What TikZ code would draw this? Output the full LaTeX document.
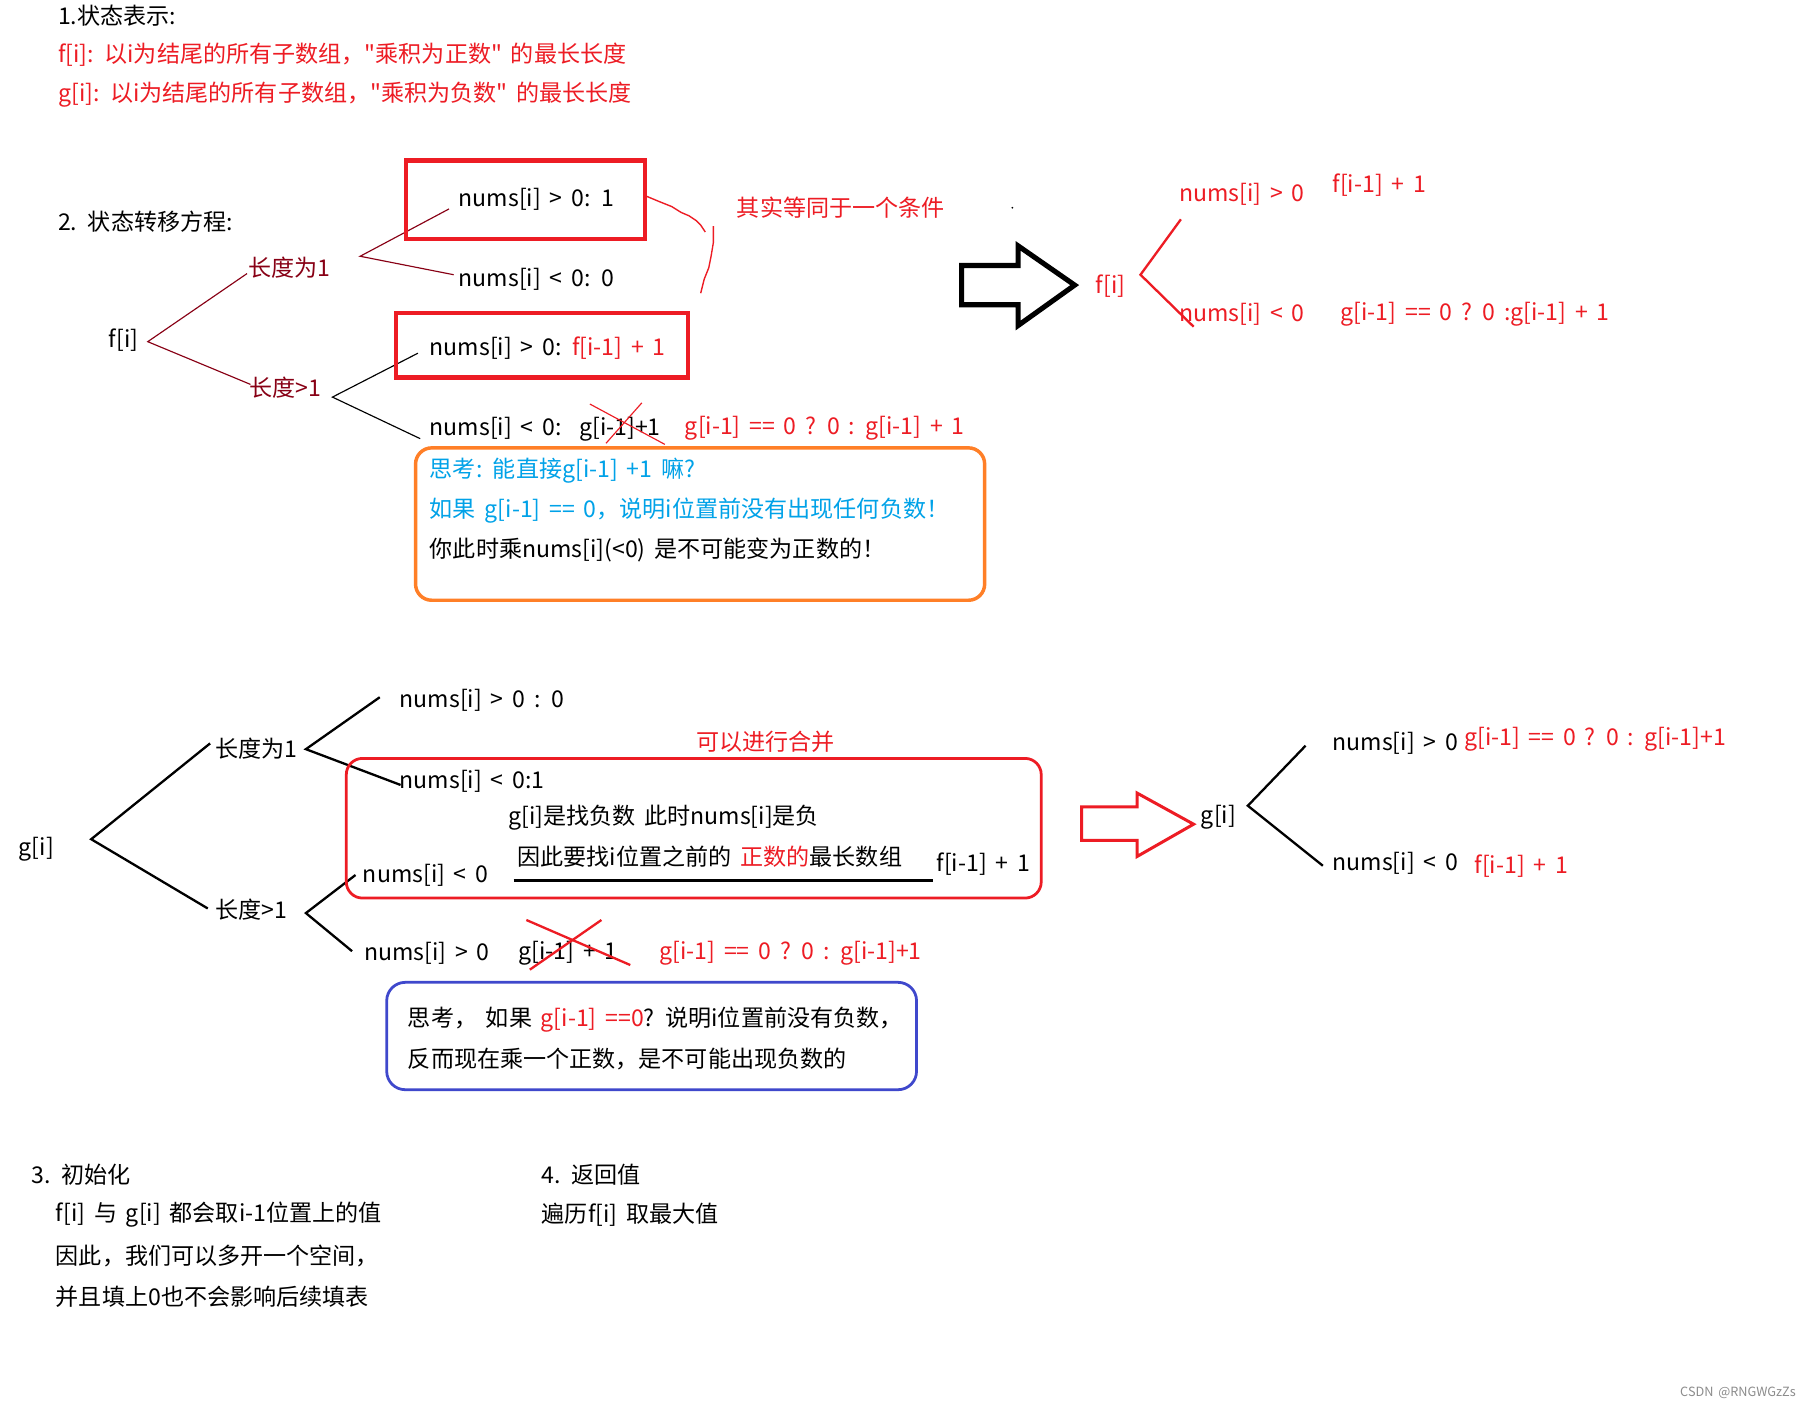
\documentclass[tikz,border=0pt]{standalone}
\usepackage{fontspec}
\setmainfont{Noto Sans CJK SC}
\newfontfamily\cjkf{Noto Sans CJK SC}[WordSpace=1.7]
\definecolor{pred}{RGB}{237,28,36}
\definecolor{pmaroon}{RGB}{136,0,21}
\definecolor{porange}{RGB}{255,127,39}
\definecolor{pblue}{RGB}{0,162,232}
\definecolor{pindigo}{RGB}{63,72,204}
\begin{document}
\begin{tikzpicture}[x=0.5pt,y=-0.5pt,
  txt/.style={anchor=west,inner sep=0pt,font=\cjkf\fontsize{10}{12}\selectfont},
  rtxt/.style={txt,text=pred},
  mtxt/.style={txt,text=pmaroon},
  btxt/.style={txt,text=pblue},
  thinm/.style={draw=pmaroon,line width=0.5pt},
  thinb/.style={draw=black,line width=0.5pt},
  medb/.style={draw=black,line width=1pt},
  redbox/.style={draw=pred,line width=1.8pt},
  redround/.style={draw=pred,line width=1.2pt,rounded corners=7pt},
  orbox/.style={draw=porange,line width=1.5pt,rounded corners=7pt},
  blbox/.style={draw=pindigo,line width=1.2pt,rounded corners=8pt},
  cross/.style={draw=pred,line width=0.5pt},
  crossb/.style={draw=pred,line width=1pt}]
\fill[white] (0,0) rectangle (1568,1219);
\useasboundingbox (0,0) rectangle (1568,1219);

% ---------- section 1
\node[txt] (h1) at (50,14) {1.状态表示:};
\node[rtxt] (fdef) at (50,47) {f[i]: 以i为结尾的所有子数组，"乘积为正数" 的最长长度};
\node[rtxt] (gdef) at (50,82) {g[i]: 以i为结尾的所有子数组，"乘积为负数" 的最长长度};

% ---------- section 2 : f tree
\node[txt] (h2) at (50,192) {2. 状态转移方程:};
\node[txt] (fi) at (94,295) {f[i]};
\node[mtxt] (fl1) at (215,232) {长度为1};
\node[mtxt] (fl2) at (216,336) {长度>1};
\node[txt] (fa) at (397,173) {nums[i] > 0: 1};
\node[txt] (fb) at (397,242) {nums[i] < 0: 0};
\node[txt] (fc) at (372,302) {nums[i] > 0: \textcolor{pred}{f[i-1] + 1}};
\node[txt] (fd) at (372,372) {nums[i] < 0:\ \ g[i-1]+1};
\node[rtxt] (fe) at (593,371) {g[i-1] == 0 ? 0 : g[i-1] + 1};

\coordinate (fJ) at (128,296);
\coordinate (fJa) at (214,237);
\coordinate (fJb) at (217,333);
\coordinate (f1J) at (312,222);
\coordinate (f1a) at (389,181);
\coordinate (f1b) at (393,238);
\coordinate (f2J) at (288,344);
\coordinate (f2a) at (362,306);
\coordinate (f2b) at (364,380);
\draw[thinm] (fJa) -- (fJ) -- (fJb);
\draw[thinm] (f1a) -- (f1J) -- (f1b);
\draw[thinb] (f2a) -- (f2J) -- (f2b);

\draw[redbox] (352,139) rectangle (559,207);
\draw[redbox] (343,271) rectangle (596,327);

\coordinate (x1a) at (511,350);
\coordinate (x1b) at (576,385);
\coordinate (x2a) at (556,349);
\coordinate (x2b) at (525,384);
\draw[cross] (x1a) -- (x1b);
\draw[cross] (x2a) -- (x2b);

% hand-drawn bracket
\draw[pred,line width=0.6pt,line join=round] (560,170) -- (572,175) -- (582,179) -- (590,184) -- (597,187) -- (603,191) -- (607,195) -- (611,201);
\draw[pred,line width=0.6pt,line join=round] (618,196) -- (618,210) -- (616,222) -- (614,232) -- (610,242) -- (607,254);
\node[rtxt] (same) at (638,180) {其实等同于一个条件};
\fill[black] (877,180) circle (0.4pt);

% orange note
\draw[orbox] (360,388) rectangle (853,520);
\node[btxt] (q1) at (372,408) {思考: 能直接g[i-1] +1 嘛?};
\node[btxt] (q2) at (372,442) {如果 g[i-1] == 0，说明i位置前没有出现任何负数！};
\node[txt] (q3) at (372,476) {你此时乘nums[i](<0) 是不可能变为正数的！};

% black arrow
\draw[black,line width=2.2pt,line join=miter] (833,230) -- (882,230) -- (882,213) -- (931,247) -- (882,282) -- (882,264) -- (833,264) -- cycle;

% simplified f
\node[rtxt] (fi2) at (949,248) {f[i]};
\coordinate (rJ) at (988,238);
\coordinate (rJa) at (1023,190);
\coordinate (rJb) at (1034,283);
\draw[pred,line width=1pt] (rJa) -- (rJ) -- (rJb);
\node[rtxt] (ra) at (1021,168) {nums[i] > 0};
\node[rtxt] (rav) at (1154,160) {f[i-1] + 1};
\node[rtxt] (rb) at (1021,272) {nums[i] < 0};
\node[rtxt] (rbv) at (1161,272) {g[i-1] == 0 ? 0 :g[i-1] + 1};

% ---------- g tree
\node[txt] (gi) at (16,736) {g[i]};
\node[txt] (gl1) at (186,649) {长度为1};
\node[txt] (gl2) at (186,788) {长度>1};
\coordinate (gJ) at (79,727);
\coordinate (gJa) at (182,644);
\coordinate (gJb) at (180,787);
\draw[medb] (gJa) -- (gJ) -- (gJb);
\coordinate (g1J) at (265,649);
\coordinate (g1a) at (329,604);
\coordinate (g1b) at (347,680);
\draw[medb] (g1a) -- (g1J) -- (g1b);
\coordinate (g2J) at (265,791);
\coordinate (g2a) at (308,758);
\coordinate (g2b) at (305,824);
\draw[medb] (g2a) -- (g2J) -- (g2b);

\node[txt] (ga) at (346,607) {nums[i] > 0 : 0};
\node[txt] (gb) at (346,677) {nums[i] < 0:1};
\node[rtxt] (merge) at (603,643) {可以进行合并};
\draw[redround] (300,657) rectangle (902,778);
\node[txt] (gn1) at (440,708) {g[i]是找负数 此时nums[i]是负};
\node[txt] (gn2) at (448,742) {因此要找i位置之前的 \textcolor{pred}{正数的}最长数组};
\coordinate (ul1) at (445,763);
\coordinate (ul2) at (808,763);
\draw[black,line width=1.2pt] (ul1) -- (ul2);
\node[txt] (gc) at (314,758) {nums[i] < 0};
\node[txt] (gcv) at (811,749) {f[i-1] + 1};
\node[txt] (gd) at (315,826) {nums[i] > 0};
\node[txt] (gdv) at (449,826) {g[i-1] + 1};
\node[rtxt] (gde) at (571,826) {g[i-1] == 0 ? 0 : g[i-1]+1};
\coordinate (y1a) at (456,797);
\coordinate (y1b) at (546,836);
\coordinate (y2a) at (521,797);
\coordinate (y2b) at (459,840);
\draw[crossb] (y1a) -- (y1b);
\draw[crossb] (y2a) -- (y2b);

% blue note
\draw[blbox] (335,851) rectangle (794,944);
\node[txt] (p1) at (353,883) {思考，\ 如果 \textcolor{pred}{g[i-1] ==0}? 说明i位置前没有负数，};
\node[txt] (p2) at (353,917) {反而现在乘一个正数，是不可能出现负数的};

% red arrow
\draw[pred,line width=1.3pt,line join=miter] (937,699) -- (985,699) -- (985,687) -- (1034,714) -- (985,742) -- (985,728) -- (937,728) -- cycle;

% simplified g
\node[txt] (gi2) at (1040,708) {g[i]};
\coordinate (sJ) at (1081,698);
\coordinate (sJa) at (1131,646);
\coordinate (sJb) at (1146,750);
\draw[medb] (sJa) -- (sJ) -- (sJb);
\node[txt] (sa) at (1154,644) {nums[i] > 0};
\node[rtxt] (sav) at (1268,640) {g[i-1] == 0 ? 0 : g[i-1]+1};
\node[txt] (sb) at (1154,748) {nums[i] < 0};
\node[rtxt] (sbv) at (1277,750) {f[i-1] + 1};

% ---------- sections 3 and 4
\node[txt] (h3) at (27,1018) {3. 初始化};
\node[txt] (i1) at (48,1052) {f[i] 与 g[i] 都会取i-1位置上的值};
\node[txt] (i2) at (48,1088) {因此，我们可以多开一个空间，};
\node[txt] (i3) at (48,1123) {并且填上0也不会影响后续填表};
\node[txt] (h4) at (469,1018) {4. 返回值};
\node[txt] (r1) at (469,1052) {遍历f[i] 取最大值};

\node[anchor=east,inner sep=0pt,text=black!45,font=\cjkf\fontsize{5.5}{6}\selectfont] (wm) at (1556,1207) {CSDN @RNGWGzZs};
\end{tikzpicture}
\end{document}
